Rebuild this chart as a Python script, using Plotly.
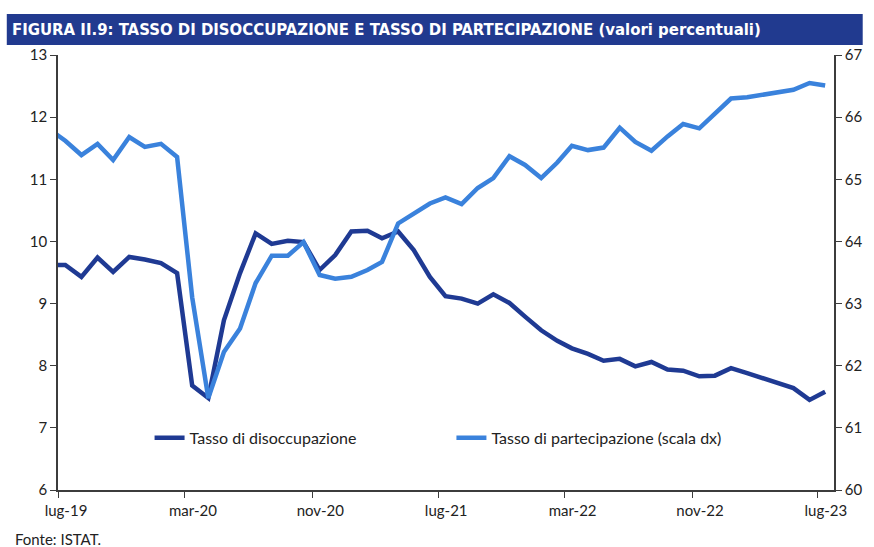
import pandas as pd
import plotly.graph_objects as go

# monthly observations (mid-month), giu-19 .. lug-23
months = pd.date_range("2019-06-01", "2023-07-01", freq="MS") + pd.Timedelta(days=14)

# tasso di disoccupazione (scala sx)
disoccupazione = [
    9.62, 9.62, 9.43, 9.74, 9.51, 9.75, 9.71, 9.65, 9.49, 7.68,
    7.48, 8.73, 9.49, 10.13, 9.96, 10.01, 9.99, 9.54, 9.78, 10.16,
    10.17, 10.05, 10.16, 9.86, 9.43, 9.12, 9.08, 9.00, 9.15, 9.01,
    8.79, 8.57, 8.40, 8.28, 8.19, 8.08, 8.11, 7.99, 8.06, 7.94,
    7.92, 7.83, 7.84, 7.96, 7.88, 7.80, 7.73, 7.64, 7.45, 7.58,
]

# tasso di partecipazione (scala dx)
partecipazione = [
    65.80, 65.62, 65.39, 65.57, 65.31, 65.68, 65.52, 65.57, 65.36, 63.10,
    61.48, 62.22, 62.60, 63.33, 63.77, 63.77, 63.99, 63.46, 63.40, 63.43,
    63.54, 63.67, 64.29, 64.45, 64.61, 64.71, 64.60, 64.86, 65.02, 65.37,
    65.23, 65.02, 65.27, 65.54, 65.47, 65.51, 65.83, 65.60, 65.46, 65.69,
    65.89, 65.82, 66.06, 66.30, 66.32, 66.36, 66.40, 66.44, 66.55, 66.51,
]

tick_dates = ["2019-07-01", "2020-03-01", "2020-11-01", "2021-07-01",
              "2022-03-01", "2022-11-01", "2023-07-01"]
tick_labels = ["lug-19", "mar-20", "nov-20", "lug-21", "mar-22", "nov-22", "lug-23"]

DARK = "#1f3a93"
LIGHT = "#3a82dc"
AXIS = "#3c3c3c"
FONT = "Lato, 'Open Sans', sans-serif"

fig = go.Figure()
fig.add_trace(go.Scatter(
    x=months, y=disoccupazione, mode="lines", name="Tasso di disoccupazione",
    line=dict(color=DARK, width=4.5), legend="legend",
))
fig.add_trace(go.Scatter(
    x=months, y=partecipazione, mode="lines", name="Tasso di partecipazione (scala dx)",
    line=dict(color=LIGHT, width=4.5), yaxis="y2", legend="legend2",
))

fig.update_layout(
    width=874, height=547,
    margin=dict(l=58, r=35, t=55, b=57),
    paper_bgcolor="white", plot_bgcolor="white",
    font=dict(family=FONT, size=15, color="#222222"),
    xaxis=dict(
        range=["2019-07-01", "2023-08-01"], tickvals=tick_dates, ticktext=tick_labels,
        showgrid=False, zeroline=False, showline=True, linecolor=AXIS, linewidth=1.5,
        ticks="outside", ticklen=6, tickcolor=AXIS, ticklabelshift=8,
    ),
    yaxis=dict(
        range=[6, 13], dtick=1, showgrid=False, zeroline=False,
        showline=True, linecolor=AXIS, linewidth=1.5,
        ticks="outside", ticklen=6, tickcolor=AXIS,
    ),
    yaxis2=dict(
        range=[60, 67], dtick=1, overlaying="y", side="right", showgrid=False,
        zeroline=False, showline=True, linecolor=AXIS, linewidth=1.5,
        ticks="outside", ticklen=6, tickcolor=AXIS,
    ),
    legend=dict(x=0.118, y=0.12, xanchor="left", yanchor="middle",
                bgcolor="rgba(0,0,0,0)", font=dict(size=16)),
    legend2=dict(x=0.507, y=0.12, xanchor="left", yanchor="middle",
                 bgcolor="rgba(0,0,0,0)", font=dict(size=16)),
    showlegend=True,
)

# title bar
fig.add_shape(type="rect", xref="paper", yref="paper",
              x0=-0.066, x1=1.037, y0=1.023, y1=1.094,
              fillcolor="#213a8f", line=dict(color="#213a8f", width=0), layer="above")
fig.add_annotation(
    xref="paper", yref="paper", x=-0.062, y=1.0585, xanchor="left", yanchor="middle",
    text="<b>FIGURA II.9: TASSO DI DISOCCUPAZIONE E TASSO DI PARTECIPAZIONE (valori percentuali)</b>",
    showarrow=False, font=dict(family="'DejaVu Sans Condensed', 'Liberation Sans Narrow', sans-serif",
                               size=16.6, color="white"),
)
fig.add_annotation(
    xref="paper", yref="paper", x=-0.058, y=-0.088, xanchor="left", yanchor="top",
    text="Fonte: ISTAT.", showarrow=False, font=dict(family=FONT, size=15, color="#222222"),
)

fig.write_html("out.html", config={"displayModeBar": False},
               post_script="document.body.style.margin='0';")
